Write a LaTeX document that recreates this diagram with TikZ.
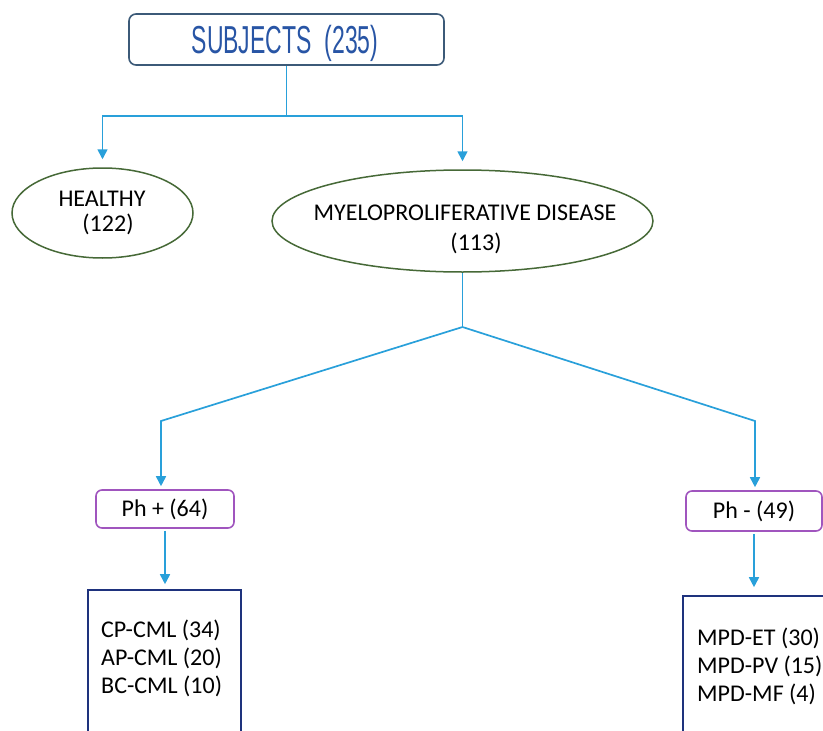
\documentclass[tikz,border=0pt]{standalone}
\usepackage{graphicx}
\usepackage{fontspec}
\setmainfont{Carlito}
\newfontfamily\titlefont{Liberation Sans}
\usetikzlibrary{arrows.meta,shapes.geometric}
\definecolor{conn}{RGB}{41,160,218}
\definecolor{topborder}{RGB}{60,90,120}
\definecolor{titletext}{RGB}{40,85,165}
\definecolor{ellborder}{RGB}{70,105,55}
\definecolor{phborder}{RGB}{160,85,190}
\definecolor{leafborder}{RGB}{30,50,125}
\tikzset{
  conn/.style={draw=conn, line width=1.7pt},
  arr/.style={conn, -{Triangle[width=10pt,length=10pt]}},
  topbox/.style={draw=topborder, line width=1.6pt, rounded corners=7pt, inner sep=0pt},
  ell/.style={ellipse, draw=ellborder, line width=1.5pt, inner sep=0pt},
  phbox/.style={draw=phborder, line width=1.6pt, rounded corners=6pt, inner sep=0pt, font=\fontsize{24}{27}\selectfont},
  leafbox/.style={draw=leafborder, line width=1.6pt, inner sep=0pt},
  txt/.style={inner sep=0pt, font=\fontsize{24}{27}\selectfont},
  list/.style={inner sep=0pt, align=left, anchor=north west, font=\fontsize{24}{28}\selectfont}
}
\begin{document}
\begin{tikzpicture}[x=1pt,y=-1pt]
\useasboundingbox (0,0) rectangle (823,731);
\clip (0,0) rectangle (823,731);

\node[topbox, minimum width=315pt, minimum height=51pt] (subj) at (286.5,39.5) {};
\node[inner sep=0pt, text=titletext, font=\titlefont\fontsize{39}{39}\selectfont] (subjtext) at (285,43)
  {\scalebox{0.59}[1]{SUBJECTS\ \ (235)}};

\node[ell, minimum width=181pt, minimum height=90pt] (healthy) at (102.5,213) {};
\node[txt] (healthyname) at (102,199) {HEALTHY};
\node[txt] (healthynum) at (108,224) {(122)};

\node[ell, minimum width=381pt, minimum height=102pt] (mpd) at (462.5,221) {};
\node[txt] (mpdname) at (465,213) {MYELOPROLIFERATIVE DISEASE};
\node[txt] (mpdnum) at (476,243) {(113)};

\node[phbox, minimum width=138pt, minimum height=38pt] (phplus) at (165,509) {Ph + (64)};
\node[phbox, minimum width=136pt, minimum height=40pt] (phminus) at (754,511) {Ph - (49)};

\node[leafbox, minimum width=153pt, minimum height=170pt] (cml) at (164.5,675) {};
\node[list] (cmltext) at (101,620) {CP-CML (34)\\AP-CML (20)\\BC-CML (10)};

\node[leafbox, minimum width=157pt, minimum height=164pt] (mpdbox) at (761.5,678) {};
\node[list] (mpdtext) at (697,628) {MPD-ET (30)\\MPD-PV (15)\\MPD-MF (4)};

% connectors
\draw[conn] (subj.south) -- (subj.south |- 0,116) coordinate (j1);
\draw[arr, shorten >=8pt] (j1) -| (healthy.north);
\draw[arr, shorten >=8pt] (j1) -| (mpd.north);

\draw[conn] (mpd.south) -- (mpd.south |- 0,327) coordinate (j2);
\coordinate (k1) at (161,421);
\coordinate (k2) at (755,421);
\draw[arr, shorten >=3pt] (j2) -- (k1) -- (k1 |- phplus.north);
\draw[arr, shorten >=3pt] (j2) -- (k2) -- (k2 |- phminus.north);

\draw[arr, shorten <=2pt, shorten >=5pt] (phplus.south) -- (phplus.south |- cml.north);
\draw[arr, shorten <=2pt, shorten >=8pt] (phminus.south) -- (phminus.south |- mpdbox.north);
\end{tikzpicture}
\end{document}
